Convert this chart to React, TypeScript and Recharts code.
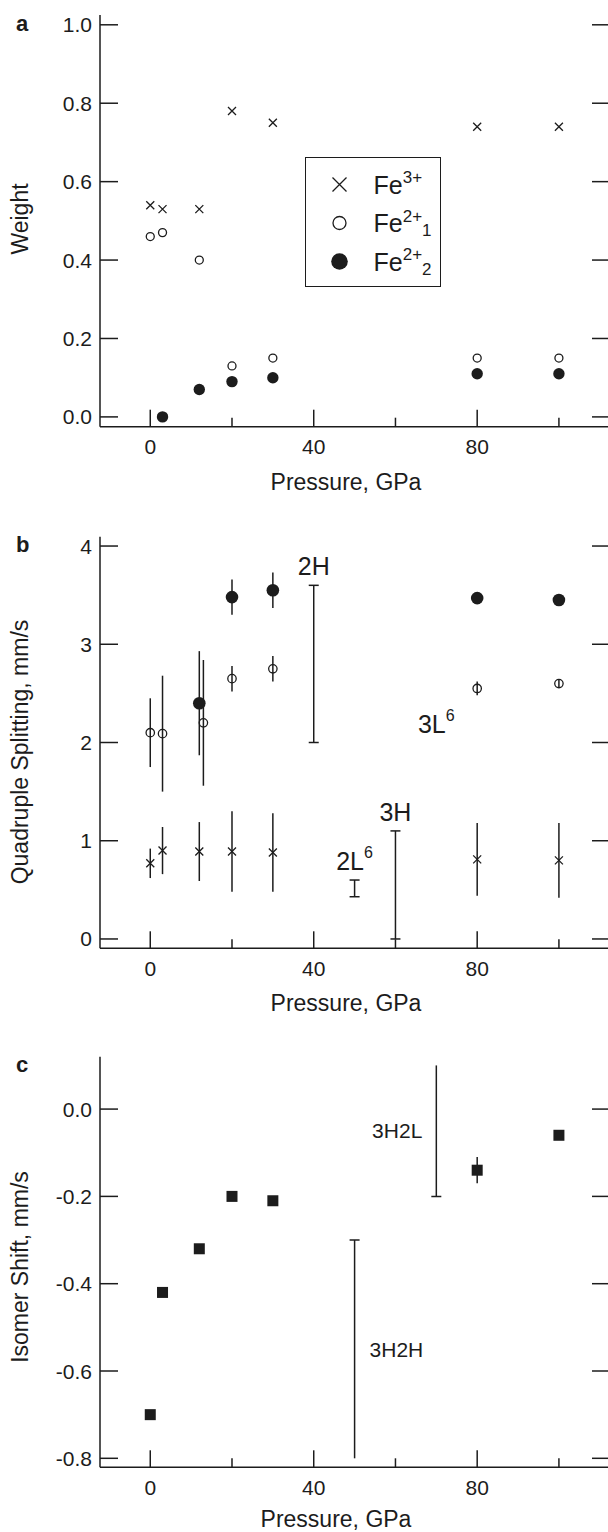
import React from "react";
import { ScatterChart, Scatter, XAxis, YAxis, ErrorBar, Legend, Label } from "recharts";

const INK = "#1c1c1c";
const FONT = "'Liberation Sans', Arial, Helvetica, sans-serif";

// panel a: relative weight of the three iron sites
const weightPressure = [0, 3, 12, 20, 30, 80, 100];
const weightFe3 = [0.54, 0.53, 0.53, 0.78, 0.75, 0.74, 0.74];
const weightFe2a = [0.46, 0.47, 0.4, 0.13, 0.15, 0.15, 0.15];
const weightFe2bPressure = [3, 12, 20, 30, 80, 100];
const weightFe2b = [0, 0.07, 0.09, 0.1, 0.11, 0.11];

// panel b: quadrupole splitting, mm/s (error = half width)
const qsFe3Pressure = [0, 3, 12, 20, 30, 80, 100];
const qsFe3 = [0.77, 0.9, 0.89, 0.89, 0.88, 0.81, 0.8];
const qsFe3Err = [0.15, 0.24, 0.3, 0.41, 0.4, 0.37, 0.38];
const qsFe2aPressure = [0, 3, 13, 20, 30, 80, 100];
const qsFe2a = [2.1, 2.09, 2.2, 2.65, 2.75, 2.55, 2.6];
const qsFe2aErr = [0.35, 0.59, 0.64, 0.13, 0.13, 0.07, 0.04];
const qsFe2bPressure = [12, 20, 30, 80, 100];
const qsFe2b = [2.4, 3.48, 3.55, 3.47, 3.45];
const qsFe2bErr = [0.53, 0.18, 0.18, 0, 0];

// calculated ranges in panel b
const qsCalcName = ["2H", "3L", "2L", "3H"];
const qsCalcSup = ["", "6", "6", ""];
const qsCalcPressure = [40, 70, 50, 60];
const qsCalcLow = [2.0, 2.0, 0.43, 0.0];
const qsCalcHigh = [3.6, 2.0, 0.6, 1.1];

// panel c: isomer shift, mm/s
const isPressure = [0, 3, 12, 20, 30, 80, 100];
const isShift = [-0.7, -0.42, -0.32, -0.2, -0.21, -0.14, -0.06];
const isShiftErr = [0, 0, 0, 0, 0, 0.03, 0];
const isCalcName = ["3H2L", "3H2H"];
const isCalcPressure = [70, 50];
const isCalcLow = [-0.2, -0.8];
const isCalcHigh = [0.1, -0.3];
const isCalcCapAt = ["low", "high"];

// axes
const pressureTicks = [0, 20, 40, 60, 80, 100];
const weightTicks = [0, 0.2, 0.4, 0.6, 0.8, 1.0];
const qsTicks = [0, 1, 2, 3, 4];
const isTicks = [-0.8, -0.6, -0.4, -0.2, 0];

const ionNames = ["Fe3+", "Fe2+1", "Fe2+2"];
const ionBase = ["Fe", "Fe", "Fe"];
const ionCharge = ["3+", "2+", "2+"];
const ionSite = ["", "1", "2"];

const P_DOMAIN: [number, number] = [-12.3, 112.5];

const rows = (xs: number[], ys: number[], es?: number[]) =>
  xs.map((x, i) => ({ x, y: ys[i], e: es ? es[i] : 0 }));

// markers
const cross = (s: number) => (p: any) => (
  <path
    d={`M${p.cx - s},${p.cy - s}L${p.cx + s},${p.cy + s}M${p.cx - s},${p.cy + s}L${p.cx + s},${p.cy - s}`}
    stroke={INK}
    strokeWidth={1.3}
    fill="none"
  />
);
const ring = (r: number) => (p: any) => <circle cx={p.cx} cy={p.cy} r={r} fill="none" stroke={INK} strokeWidth={1.3} />;
const dot = (r: number) => (p: any) => <circle cx={p.cx} cy={p.cy} r={r} fill={INK} />;
const square = (s: number) => (p: any) => <rect x={p.cx - s / 2} y={p.cy - s / 2} width={s} height={s} fill={INK} />;
const nothing = () => <g />;
const cap = (p: any) => <line x1={p.cx - 5} x2={p.cx + 5} y1={p.cy} y2={p.cy} stroke={INK} strokeWidth={1.5} />;

// ticks: all drawn inward, like the original frame
function bottomTick(p: any) {
  const v = p.payload.value;
  const major = v % 40 === 0;
  return (
    <g>
      <line x1={p.x} x2={p.x} y1={p.y} y2={p.y - (major ? 17 : 9)} stroke={INK} strokeWidth={1.5} />
      {major && (
        <text x={p.x} y={p.y + 20} textAnchor="middle" dominantBaseline="central" fontSize={21} fill={INK} fontFamily={FONT}>
          {v}
        </text>
      )}
    </g>
  );
}
function topTick(p: any) {
  const major = p.payload.value % 40 === 0;
  return <line x1={p.x} x2={p.x} y1={p.y} y2={p.y + (major ? 17 : 9)} stroke={INK} strokeWidth={1.5} />;
}
const leftTick = (fmt: (v: number) => string) => (p: any) => (
  <g>
    <line x1={p.x} x2={p.x + 18} y1={p.y} y2={p.y} stroke={INK} strokeWidth={1.5} />
    <text x={p.x - 8} y={p.y} textAnchor="end" dominantBaseline="central" fontSize={21} fill={INK} fontFamily={FONT}>
      {fmt(p.payload.value)}
    </text>
  </g>
);
function rightTick(p: any) {
  return <line x1={p.x} x2={p.x - 18} y1={p.y} y2={p.y} stroke={INK} strokeWidth={1.5} />;
}

function Panel({ top, height, plotTop, plotBottom, yDomain, yTicks, yFormat, yTitle, yTitleY, letter, xTitleX, xTitleDy, children }: any) {
  const axisLine = { stroke: INK, strokeWidth: 1.5 };
  return (
    <div style={{ position: "absolute", left: 0, top }}>
      <ScatterChart width={625} height={height} margin={{ top: plotTop, right: 0, bottom: height - plotBottom - 60, left: 0 }}>
        <XAxis
          xAxisId="b"
          type="number"
          dataKey="x"
          domain={P_DOMAIN}
          allowDataOverflow
          ticks={pressureTicks}
          interval={0}
          height={60}
          tickSize={0}
          tickMargin={0}
          tickLine={false}
          axisLine={axisLine}
          tick={bottomTick}
          label={
            <Label
              content={(p: any) => (
                <text x={xTitleX} y={p.viewBox.y + xTitleDy} textAnchor="middle" dominantBaseline="central" fontSize={23} fill={INK} fontFamily={FONT}>
                  Pressure, GPa
                </text>
              )}
            />
          }
        />
        <XAxis
          xAxisId="t"
          orientation="top"
          type="number"
          dataKey="x"
          domain={P_DOMAIN}
          allowDataOverflow
          ticks={pressureTicks}
          interval={0}
          height={0}
          tickSize={0}
          tickMargin={0}
          tickLine={false}
          axisLine={axisLine}
          tick={topTick}
        />
        <YAxis
          yAxisId="l"
          type="number"
          dataKey="y"
          domain={yDomain}
          allowDataOverflow
          ticks={yTicks}
          interval={0}
          width={100}
          tickSize={0}
          tickMargin={0}
          tickLine={false}
          axisLine={axisLine}
          tick={leftTick(yFormat)}
          label={
            <Label
              content={(p: any) => (
                <g fontFamily={FONT} fill={INK}>
                  <text
                    x={20}
                    y={yTitleY}
                    transform={`rotate(-90 20 ${yTitleY})`}
                    textAnchor="middle"
                    dominantBaseline="central"
                    fontSize={23}
                  >
                    {yTitle}
                  </text>
                  <text x={16} y={p.viewBox.y + 15.5} fontSize={22} fontWeight="bold">
                    {letter}
                  </text>
                </g>
              )}
            />
          }
        />
        <YAxis
          yAxisId="r"
          orientation="right"
          type="number"
          dataKey="y"
          domain={yDomain}
          allowDataOverflow
          ticks={yTicks}
          interval={0}
          width={15}
          tickSize={0}
          tickMargin={0}
          tickLine={false}
          axisLine={axisLine}
          tick={rightTick}
        />
        {children}
      </ScatterChart>
    </div>
  );
}

function weightLegend(props: any) {
  const items = (props.payload || []).filter((e: any) => ionNames.includes(e.value));
  const names: string[] = items.length ? items.map((e: any) => e.value) : ionNames;
  names.sort((a, b) => ionNames.indexOf(a) - ionNames.indexOf(b));
  const glyphs = [cross(7), ring(6.5), dot(8.3)];
  return (
    <div style={{ width: 136, height: 130, border: `1.5px solid ${INK}`, boxSizing: "border-box", background: "#fff" }}>
      <svg width={133} height={127} style={{ display: "block" }}>
        {names.map((n, k) => {
          const i = ionNames.indexOf(n);
          const cy = 26.5 + k * 38.5;
          return (
            <g key={n}>
              {glyphs[i]({ cx: 33.5, cy })}
              <text x={67.5} y={cy + 9} fontSize={25} fill={INK} fontFamily={FONT}>
                {ionBase[i]}
                <tspan dy={-10.5} fontSize={17}>
                  {ionCharge[i]}
                </tspan>
                {ionSite[i] && (
                  <tspan dy={14.8} fontSize={17}>
                    {ionSite[i]}
                  </tspan>
                )}
              </text>
            </g>
          );
        })}
      </svg>
    </div>
  );
}

const qsCalcBars = qsCalcPressure.map((x, i) => ({
  x,
  y: (qsCalcLow[i] + qsCalcHigh[i]) / 2,
  e: (qsCalcHigh[i] - qsCalcLow[i]) / 2,
}));
const qsCalcTags = qsCalcPressure.map((x, i) => ({ x, y: qsCalcHigh[i], name: qsCalcName[i], sup: qsCalcSup[i] }));

const isCalcBars = isCalcPressure.map((x, i) => ({
  x,
  y: (isCalcLow[i] + isCalcHigh[i]) / 2,
  e: (isCalcHigh[i] - isCalcLow[i]) / 2,
  name: isCalcName[i],
  capAt: isCalcCapAt[i],
}));
const isCalcCaps = isCalcPressure.map((x, i) => ({ x, y: isCalcCapAt[i] === "low" ? isCalcLow[i] : isCalcHigh[i] }));

const qsTag = (p: any) => (
  <text x={p.cx} y={p.cy - 10} textAnchor="middle" fontSize={25} fill={INK} fontFamily={FONT}>
    {p.payload.name}
    {p.payload.sup && (
      <tspan dy={-12} fontSize={16}>
        {p.payload.sup}
      </tspan>
    )}
  </text>
);
// the upper bar is labelled on its left, the lower one on its right
const isTag = (p: any) => {
  const left = p.payload.capAt === "low";
  return (
    <text
      x={p.cx + (left ? -14 : 15)}
      y={p.cy}
      textAnchor={left ? "end" : "start"}
      dominantBaseline="central"
      fontSize={21}
      fill={INK}
      fontFamily={FONT}
    >
      {p.payload.name}
    </text>
  );
};

const eb = { stroke: INK, strokeWidth: 1.5 };

export default function App() {
  return (
    <div style={{ position: "absolute", left: 0, top: 0, width: 608, height: 1532, overflow: "hidden", background: "#fff" }}>
      <Panel
        top={0}
        height={520}
        plotTop={15}
        plotBottom={426.7}
        yDomain={[-0.025, 1.025]}
        yTicks={weightTicks}
        yFormat={(v: number) => v.toFixed(1)}
        yTitle="Weight"
        yTitleY={219}
        letter="a"
        xTitleX={346}
        xTitleDy={55}
      >
        <Scatter xAxisId="b" yAxisId="l" name="Fe3+" data={rows(weightPressure, weightFe3)} shape={cross(4)} isAnimationActive={false} />
        <Scatter xAxisId="b" yAxisId="l" name="Fe2+1" data={rows(weightPressure, weightFe2a)} shape={ring(4)} isAnimationActive={false} />
        <Scatter xAxisId="b" yAxisId="l" name="Fe2+2" data={rows(weightFe2bPressure, weightFe2b)} shape={dot(5.7)} isAnimationActive={false} />
        <Legend layout="vertical" align="center" verticalAlign="middle" wrapperStyle={{ left: 305, top: 157, width: 136, height: 130 }} content={weightLegend} />
      </Panel>

      <Panel
        top={520}
        height={520}
        plotTop={16.7}
        plotBottom={428.3}
        yDomain={[-0.095, 4.095]}
        yTicks={qsTicks}
        yFormat={(v: number) => String(v)}
        yTitle="Quadruple Splitting, mm/s"
        yTitleY={232}
        letter="b"
        xTitleX={346}
        xTitleDy={55}
      >
        <Scatter xAxisId="b" yAxisId="l" data={rows(qsFe3Pressure, qsFe3, qsFe3Err)} shape={cross(4)} legendType="none" isAnimationActive={false}>
          <ErrorBar dataKey="e" direction="y" width={0} {...eb} />
        </Scatter>
        <Scatter xAxisId="b" yAxisId="l" data={rows(qsFe2aPressure, qsFe2a, qsFe2aErr)} shape={ring(4.2)} legendType="none" isAnimationActive={false}>
          <ErrorBar dataKey="e" direction="y" width={0} {...eb} />
        </Scatter>
        <Scatter xAxisId="b" yAxisId="l" data={rows(qsFe2bPressure, qsFe2b, qsFe2bErr)} shape={dot(6.3)} legendType="none" isAnimationActive={false}>
          <ErrorBar dataKey="e" direction="y" width={0} {...eb} />
        </Scatter>
        <Scatter xAxisId="b" yAxisId="l" data={qsCalcBars} shape={nothing} legendType="none" isAnimationActive={false}>
          <ErrorBar dataKey="e" direction="y" width={5} {...eb} />
        </Scatter>
        <Scatter xAxisId="b" yAxisId="l" data={qsCalcTags} shape={qsTag} legendType="none" isAnimationActive={false} />
      </Panel>

      <Panel
        top={1040}
        height={500}
        plotTop={16.7}
        plotBottom={427.3}
        yDomain={[-0.8206, 0.12]}
        yTicks={isTicks}
        yFormat={(v: number) => v.toFixed(1)}
        yTitle="Isomer Shift, mm/s"
        yTitleY={227}
        letter="c"
        xTitleX={336}
        xTitleDy={52}
      >
        <Scatter xAxisId="b" yAxisId="l" data={rows(isPressure, isShift, isShiftErr)} shape={square(11)} legendType="none" isAnimationActive={false}>
          <ErrorBar dataKey="e" direction="y" width={0} {...eb} />
        </Scatter>
        <Scatter xAxisId="b" yAxisId="l" data={isCalcBars} shape={isTag} legendType="none" isAnimationActive={false}>
          <ErrorBar dataKey="e" direction="y" width={0} {...eb} />
        </Scatter>
        <Scatter xAxisId="b" yAxisId="l" data={isCalcCaps} shape={cap} legendType="none" isAnimationActive={false} />
      </Panel>
    </div>
  );
}
